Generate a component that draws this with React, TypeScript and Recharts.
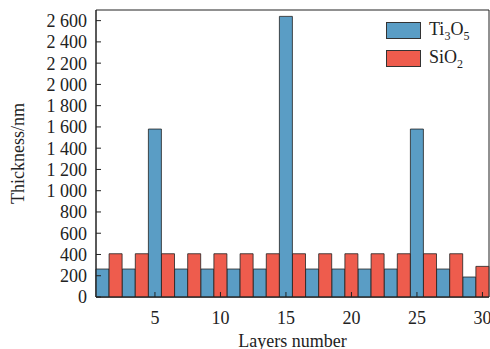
import React from 'react';
import { BarChart, Bar, XAxis, YAxis, Legend, ReferenceArea } from 'recharts';

const tiLayers = [1, 3, 5, 7, 9, 11, 13, 15, 17, 19, 21, 23, 25, 27, 29];
const tiValues = [263, 263, 1580, 263, 263, 263, 263, 2640, 263, 263, 263, 263, 1580, 263, 188];
const siLayers = [2, 4, 6, 8, 10, 12, 14, 16, 18, 20, 22, 24, 26, 28, 30];
const siValues = [407, 407, 407, 407, 407, 407, 407, 407, 407, 407, 407, 407, 407, 407, 288];
const xTicks = [5, 10, 15, 20, 25, 30];
const yTicks = [0, 200, 400, 600, 800, 1000, 1200, 1400, 1600, 1800, 2000, 2200, 2400, 2600];

const BLUE = '#5a9dc5';
const RED = '#ee5c4d';
const FONT = '"Liberation Serif", "Times New Roman", serif';

type Row = { layer: number; ti: number | null; si: number | null };
const data: Row[] = [];
tiLayers.forEach((l, i) => data.push({ layer: l, ti: tiValues[i], si: null }));
siLayers.forEach((l, i) => data.push({ layer: l, ti: null, si: siValues[i] }));
data.sort((a, b) => a.layer - b.layer);

const fmt = (n: number) => {
  if (n < 1000) return String(n);
  return `${Math.floor(n / 1000)} ${String(n % 1000).padStart(3, '0')}`;
};

const LegendBox = () => {
  const item = (color: string, main: string, sub: string, tail: string, sub2: string) => (
    <div style={{ display: 'flex', alignItems: 'center', height: 28 }}>
      <div style={{ width: 33, height: 15, background: color, border: '1px solid #333', marginRight: 8 }} />
      <span style={{ fontFamily: FONT, fontSize: 18, color: '#222', lineHeight: '18px' }}>
        {main}
        <span style={{ fontSize: 12, position: 'relative', top: 5 }}>{sub}</span>
        {tail}
        {sub2 ? <span style={{ fontSize: 12, position: 'relative', top: 5 }}>{sub2}</span> : null}
      </span>
    </div>
  );
  return (
    <div>
      {item(BLUE, 'Ti', '3', 'O', '5')}
      {item(RED, 'SiO', '2', '', '')}
    </div>
  );
};

export default function App() {
  return (
    <div style={{ position: 'absolute', left: 0, top: 0, background: '#fff' }}>
      <BarChart
        width={490}
        height={349}
        data={data}
        margin={{ top: 10, right: 1, bottom: 0, left: 0 }}
        barCategoryGap={0}
        barGap={0}
        style={{ fontFamily: FONT }}
      >
        <XAxis
          dataKey="layer"
          type="number"
          domain={[0.5, 30.5]}
          ticks={xTicks}
          interval={0}
          height={52}
          tickSize={-5}
          tickMargin={19}
          axisLine={{ stroke: '#222', strokeWidth: 1 }}
          tickLine={{ stroke: '#222' }}
          tick={{ fontSize: 18, fill: '#222', fontFamily: FONT }}
          label={{ value: 'Layers number', position: 'insideBottom', offset: 2.5, fontSize: 18, fill: '#222', fontFamily: FONT }}
        />
        <YAxis
          type="number"
          domain={[0, 2700]}
          ticks={yTicks}
          interval={0}
          width={96}
          tickSize={-5}
          tickMargin={14}
          tickFormatter={fmt}
          axisLine={{ stroke: '#222', strokeWidth: 1 }}
          tickLine={{ stroke: '#222' }}
          tick={{ fontSize: 18, fill: '#222', fontFamily: FONT }}
          label={{ value: 'Thickness/nm', angle: -90, position: 'insideLeft', offset: 18, fontSize: 18, fill: '#222', fontFamily: FONT, style: { textAnchor: 'middle' } }}
        />
        <Legend
          layout="vertical"
          align="center"
          verticalAlign="middle"
          content={<LegendBox />}
          wrapperStyle={{ position: 'absolute', left: 386, top: 16, width: 100, height: 60 }}
        />
        <Bar dataKey="ti" name="Ti3O5" stackId="a" fill={BLUE} stroke="#222" strokeWidth={0.8} isAnimationActive={false} />
        <Bar dataKey="si" name="SiO2" stackId="a" fill={RED} stroke="#222" strokeWidth={0.8} isAnimationActive={false} />
        <ReferenceArea x1={0.5} x2={30.5} y1={0} y2={2700} fill="none" stroke="#222" strokeWidth={1} ifOverflow="visible" />
      </BarChart>
    </div>
  );
}
